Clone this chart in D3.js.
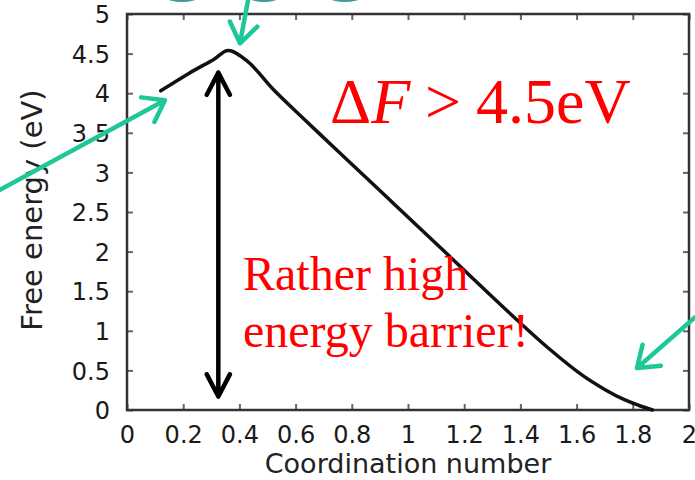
<!DOCTYPE html>
<html>
<head>
<meta charset="utf-8">
<script src="https://cdn.jsdelivr.net/npm/d3@7"></script>
<style>
  body { margin: 0; background: #fff; }
  svg { display: block; }
</style>
</head>
<body>
<script>
// curve
const coordination = [0.12, 0.22, 0.31, 0.36, 0.43, 0.52, 0.64, 0.75, 0.93, 1.13, 1.39, 1.50, 1.62, 1.70, 1.77, 1.82, 1.87]
const freeEnergy = [4.03, 4.25, 4.43, 4.54, 4.40, 4.05, 3.64, 3.27, 2.67, 2.00, 1.13, 0.78, 0.44, 0.26, 0.13, 0.06, 0.0]

const xTicks = [0, 0.2, 0.4, 0.6, 0.8, 1, 1.2, 1.4, 1.6, 1.8, 2]
const yTicks = [0, 0.5, 1, 1.5, 2, 2.5, 3, 3.5, 4, 4.5, 5]

// annotation arrows, in data units [x1, y1, x2 (tip), y2 (tip)]
const greenArrows = [
  [-0.452, 2.78, 0.135, 3.91],
  [0.431, 5.18, 0.402, 4.63],
  [2.021, 1.17, 1.815, 0.53]
]
const barrierArrow = [0.325, 0.17, 0.325, 4.26]

const width = 695, height = 480
const margin = { top: 14, right: 6, bottom: 70, left: 127 }

const svg = d3.select('body').append('svg')
  .attr('width', width)
  .attr('height', height)

const x = d3.scaleLinear().domain([0, 2]).range([margin.left, width - margin.right])
const y = d3.scaleLinear().domain([0, 5]).range([height - margin.bottom, margin.top])

// bits of the molecule pictures cut off at the top
const blobs = [[167, 197], [250, 278], [330, 360]]
svg.selectAll('ellipse.blob')
  .data(blobs)
  .join('ellipse')
  .attr('cx', d => (d[0] + d[1]) / 2)
  .attr('cy', -2)
  .attr('rx', d => (d[1] - d[0]) / 2)
  .attr('ry', 4)
  .attr('fill', '#3b9c9c')

const axisFont = 'DejaVu Sans, Verdana, sans-serif'

// axes
const gx = svg.append('g')
  .attr('transform', `translate(0,${y(0)})`)
  .call(d3.axisBottom(x).tickValues(xTicks).tickSize(-6).tickPadding(16).tickFormat(d3.format('')))
const gy = svg.append('g')
  .attr('transform', `translate(${x(0)},0)`)
  .call(d3.axisLeft(y).tickValues(yTicks).tickSize(-6).tickPadding(17).tickFormat(d3.format('')))
svg.append('g')
  .attr('transform', `translate(0,${y(5)})`)
  .call(d3.axisTop(x).tickValues(xTicks).tickSize(-6).tickFormat(''))
svg.append('g')
  .attr('transform', `translate(${x(2)},0)`)
  .call(d3.axisRight(y).tickValues(yTicks).tickSize(-6).tickFormat(''))

svg.selectAll('.domain').remove()
svg.selectAll('.tick line').attr('stroke', '#666').attr('stroke-width', 2)
svg.selectAll('.tick text')
  .attr('fill', '#1a1a1a')
  .style('font-family', axisFont)
  .style('font-size', '24px')
gy.selectAll('.tick text').attr('dy', '0.36em')

svg.append('rect')
  .attr('x', x(0))
  .attr('y', y(5))
  .attr('width', x(2) - x(0))
  .attr('height', y(0) - y(5))
  .attr('fill', 'none')
  .attr('stroke', '#333')
  .attr('stroke-width', 2.5)

svg.append('text')
  .attr('x', (x(0) + x(2)) / 2)
  .attr('y', 473)
  .attr('text-anchor', 'middle')
  .attr('fill', '#222')
  .style('font-family', axisFont)
  .style('font-size', '27px')
  .text('Coordination number')

svg.append('text')
  .attr('transform', `translate(42,${(y(0) + y(5)) / 2 - 2}) rotate(-90)`)
  .attr('text-anchor', 'middle')
  .attr('fill', '#222')
  .style('font-family', axisFont)
  .style('font-size', '29px')
  .text('Free energy (eV)')

// curve
const line = d3.line()
  .x(d => x(d[0]))
  .y(d => y(d[1]))
  .curve(d3.curveCatmullRom.alpha(0.5))

svg.append('path')
  .datum(d3.zip(coordination, freeEnergy))
  .attr('d', line)
  .attr('fill', 'none')
  .attr('stroke', '#111')
  .attr('stroke-width', 3.5)
  .attr('stroke-linejoin', 'round')
  .attr('stroke-linecap', 'round')

// arrows
function arrowHead(tipX, tipY, fromX, fromY, len, ang) {
  const a = Math.atan2(fromY - tipY, fromX - tipX)
  const p1 = [tipX + len * Math.cos(a + ang), tipY + len * Math.sin(a + ang)]
  const p2 = [tipX + len * Math.cos(a - ang), tipY + len * Math.sin(a - ang)]
  return `M${p1[0]},${p1[1]}L${tipX},${tipY}L${p2[0]},${p2[1]}`
}

const green = '#1ec797'
greenArrows.forEach(d => {
  const x1 = x(d[0]), y1 = y(d[1]), x2 = x(d[2]), y2 = y(d[3])
  svg.append('path')
    .attr('d', `M${x1},${y1}L${x2},${y2}` + arrowHead(x2, y2, x1, y1, 24, 0.62))
    .attr('fill', 'none')
    .attr('stroke', green)
    .attr('stroke-width', 4.5)
    .attr('stroke-linecap', 'round')
    .attr('stroke-linejoin', 'round')
})

{
  const d = barrierArrow
  const x1 = x(d[0]), y1 = y(d[1]), x2 = x(d[2]), y2 = y(d[3])
  svg.append('path')
    .attr('d', `M${x1},${y1}L${x2},${y2}` +
      arrowHead(x2, y2, x1, y1, 25, 0.48) + arrowHead(x1, y1, x2, y2, 25, 0.48))
    .attr('fill', 'none')
    .attr('stroke', '#000')
    .attr('stroke-width', 4.5)
    .attr('stroke-linecap', 'round')
    .attr('stroke-linejoin', 'round')
}

// red notes
const serif = 'Liberation Serif, Times New Roman, serif'
const dF = svg.append('text')
  .attr('y', 123)
  .attr('fill', '#ff0000')
  .style('font-family', serif)
  .style('font-size', '64px')
dF.append('tspan').attr('x', 330).text('Δ')
dF.append('tspan').style('font-style', 'italic').text('F')
dF.append('tspan').attr('x', 425).text('>')
dF.append('tspan').attr('x', 476).text('4.5eV')

svg.selectAll('text.note')
  .data(['Rather high', 'energy barrier!'])
  .join('text')
  .attr('class', 'note')
  .attr('x', 243)
  .attr('y', (d, i) => 290 + i * 57)
  .attr('fill', '#ff0000')
  .style('font-family', serif)
  .style('font-size', '48px')
  .text(d => d)
</script>
</body>
</html>
